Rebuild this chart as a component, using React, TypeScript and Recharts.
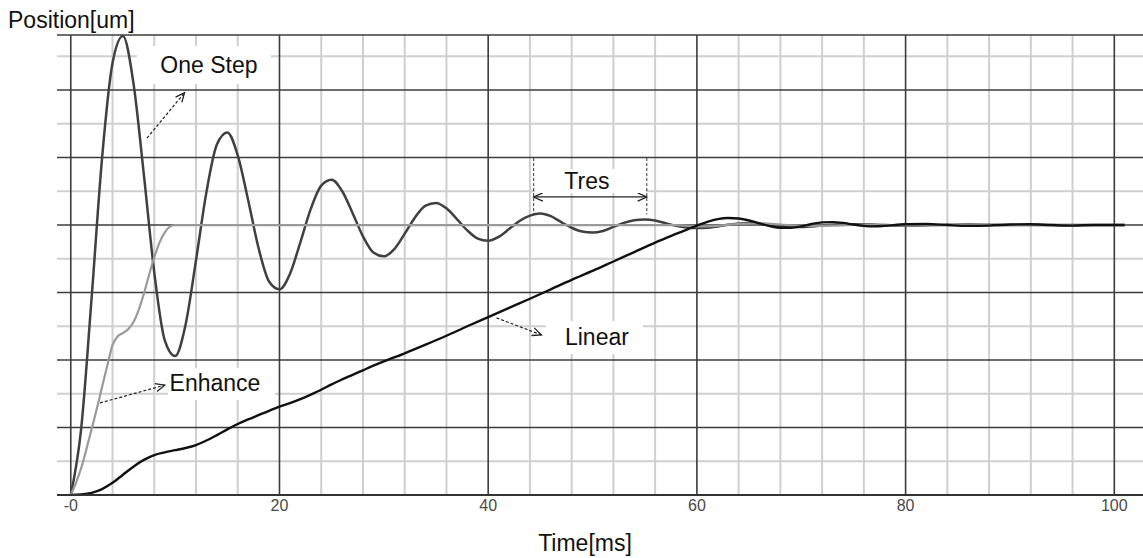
import React from 'react';
import {
  LineChart,
  Line,
  XAxis,
  YAxis,
  ReferenceLine,
  ReferenceDot,
} from 'recharts';

// [time ms, position], final position normalised to 1
const oneStep: [number, number][] = [
  [0, 0], [1, 0.247], [2, 0.732], [3, 1.249], [4, 1.6], [5, 1.7], [6, 1.527], [7, 1.188],
  [8, 0.825], [9, 0.574], [10, 0.515], [11, 0.631], [12, 0.869], [13, 1.122], [14, 1.298],
  [15, 1.343], [16, 1.258], [17, 1.092], [18, 0.914], [19, 0.791], [20, 0.762], [21, 0.819],
  [22, 0.936], [23, 1.06], [24, 1.146], [25, 1.168], [26, 1.126], [27, 1.045], [28, 0.958],
  [29, 0.898], [30, 0.884], [31, 0.911], [32, 0.968], [33, 1.029], [34, 1.072], [35, 1.082],
  [36, 1.062], [37, 1.022], [38, 0.98], [39, 0.95], [40, 0.942], [41, 0.956], [42, 0.985],
  [43, 1.015], [44, 1.035], [45, 1.043], [46, 1.033], [47, 1.011], [48, 0.99], [49, 0.976],
  [50, 0.972], [51, 0.978], [52, 0.993], [53, 1.008], [54, 1.018], [55, 1.021], [56, 1.017],
  [57, 1.007], [58, 0.997], [59, 0.991], [60, 0.989], [61, 0.99], [62, 0.995], [63, 1.001],
  [64, 1.006], [65, 1.008], [66, 1.006], [67, 1.001], [68, 0.996], [69, 0.993], [70, 0.993],
  [72, 0.998], [74, 1.003], [76, 1.003], [78, 1.0], [80, 0.998], [83, 1.0], [86, 1.002],
  [90, 1.0], [95, 1.0], [101, 1.0],
];

const enhance: [number, number][] = [
  [0, 0], [0.5, 0.045], [1, 0.1], [1.5, 0.17], [2, 0.245], [2.5, 0.32], [3, 0.4], [3.5, 0.48],
  [4, 0.555], [4.5, 0.588], [5, 0.6], [5.5, 0.614], [6, 0.64], [6.5, 0.685], [7, 0.745],
  [7.5, 0.815], [8, 0.88], [8.5, 0.935], [9, 0.972], [9.5, 0.994], [10, 1.0], [58, 1.0],
  [60, 0.995], [62, 0.997], [64, 1.004], [66, 1.006], [68, 1.002], [70, 0.997], [73, 0.998],
  [76, 1.002], [80, 1.0], [101, 1.0],
];

const linear: [number, number][] = [
  [0, 0], [1, 0.002], [2, 0.008], [3, 0.022], [4, 0.045], [5, 0.075], [6, 0.105], [7, 0.13],
  [8, 0.148], [9, 0.158], [10, 0.166], [11, 0.174], [12, 0.185], [13, 0.202], [14, 0.222],
  [15, 0.243], [16, 0.263], [17, 0.28], [18, 0.296], [19, 0.312], [20, 0.327], [21, 0.34],
  [22, 0.355], [23, 0.372], [24, 0.39], [25, 0.41], [26, 0.428], [27, 0.445], [28, 0.462],
  [29, 0.479], [30, 0.495], [32, 0.525], [34, 0.557], [36, 0.59], [38, 0.625], [40, 0.659],
  [42, 0.693], [44, 0.727], [46, 0.762], [48, 0.797], [50, 0.83], [52, 0.865], [54, 0.9],
  [56, 0.935], [58, 0.967], [60, 0.998], [61, 1.012], [62, 1.022], [63, 1.026], [64, 1.024],
  [65, 1.017], [66, 1.006], [67, 0.996], [68, 0.99], [69, 0.99], [70, 0.995], [71, 1.004],
  [72, 1.01], [73, 1.011], [74, 1.008], [75, 1.002], [76, 0.997], [77, 0.995], [78, 0.997],
  [80, 1.003], [82, 1.004], [84, 1.0], [86, 0.997], [88, 0.998], [90, 1.002], [92, 1.003],
  [94, 1.0], [96, 0.998], [98, 1.0], [101, 1.0],
];

const xTicks = [0, 20, 40, 60, 80, 100];
const xMinor = [4, 8, 12, 16, 24, 28, 32, 36, 44, 48, 52, 56, 64, 68, 72, 76, 84, 88, 92, 96];
const yMajor = [0.25, 0.5, 0.75, 1, 1.25, 1.5];
const yMinor = [0.125, 0.375, 0.625, 0.875, 1.125, 1.375, 1.625];

const X_DOMAIN: [number, number] = [-1.32, 102.75];
const Y_DOMAIN: [number, number] = [0, 1.704];

const toRows = (pts: [number, number][]) => pts.map(([t, v]) => ({ t, v }));

const FONT = '"Liberation Sans", Arial, sans-serif';

// dashed (or solid) arrow drawn on a ReferenceLine segment
const arrowShape = (dashed: boolean, both: boolean) => (p: any) => {
  const { x1, y1, x2, y2 } = p;
  const a = Math.atan2(y2 - y1, x2 - x1);
  const L = 10;
  const w = 0.42;
  const head = (x: number, y: number, ang: number) =>
    `M${x - L * Math.cos(ang - w)},${y - L * Math.sin(ang - w)} L${x},${y} L${x - L * Math.cos(ang + w)},${y - L * Math.sin(ang + w)}`;
  return (
    <g>
      <line x1={x1} y1={y1} x2={x2} y2={y2} stroke="#222" strokeWidth={1.2} strokeDasharray={dashed ? '3 2' : undefined} />
      <path d={head(x2, y2, a)} fill="none" stroke="#222" strokeWidth={1.3} />
      {both && <path d={head(x1, y1, a + Math.PI)} fill="none" stroke="#222" strokeWidth={1.3} />}
    </g>
  );
};

// text with a white box behind it (box edges in px around the text centre)
const boxedLabel = (text: string, box: [number, number, number, number]) => (props: any) => {
  const vb = props.viewBox || {};
  const cx = (vb.x ?? 0) + (vb.width ?? 0) / 2;
  const cy = (vb.y ?? 0) + (vb.height ?? 0) / 2;
  const [l, r, t, b] = box;
  return (
    <g>
      <rect x={cx - l} y={cy - t} width={l + r} height={t + b} fill="#fff" />
      <text x={cx} y={cy} dy="0.36em" textAnchor="middle" fill="#111" fontSize={23} fontFamily={FONT}>
        {text}
      </text>
    </g>
  );
};

export default function App() {
  return (
    <div style={{ position: 'absolute', left: 0, top: 0, width: 1143, height: 558, background: '#fff' }}>
      <div
        style={{
          position: 'absolute',
          left: 8,
          top: 7,
          fontFamily: FONT,
          fontSize: 23,
          color: '#111',
          lineHeight: 'normal',
        }}
      >
        Position[um]
      </div>
      <LineChart width={1143} height={558} margin={{ top: 35, right: 0, left: 57, bottom: 0 }}>
        <XAxis
          type="number"
          dataKey="t"
          domain={X_DOMAIN}
          allowDataOverflow
          ticks={xTicks}
          tickFormatter={(v: number) => (v === 0 ? '-0' : String(v))}
          tick={{ fill: '#4a4a4a', fontSize: 16, fontFamily: FONT }}
          tickLine={false}
          tickSize={0}
          tickMargin={5}
          height={63}
          axisLine={{ stroke: '#333', strokeWidth: 2 }}
          label={{ value: 'Time[ms]', position: 'insideBottom', offset: 7, dx: -15, fill: '#111', fontSize: 23, fontFamily: FONT }}
        />
        <YAxis
          type="number"
          domain={Y_DOMAIN}
          allowDataOverflow
          ticks={[0, ...yMajor]}
          tick={false}
          width={0}
          tickSize={5}
          tickLine={{ stroke: '#333', strokeWidth: 2 }}
          axisLine={{ stroke: '#222', strokeWidth: 3 }}
        />

        {/* minor grid */}
        {xMinor.map((x) => (
          <ReferenceLine key={`xm${x}`} x={x} stroke="#cfcfcf" strokeWidth={2} />
        ))}
        {yMinor.map((y) => (
          <ReferenceLine key={`ym${y}`} y={y} stroke="#cfcfcf" strokeWidth={2} />
        ))}

        {/* major grid */}
        {xTicks.map((x) => (
          <ReferenceLine key={`xM${x}`} x={x} stroke="#3c3c3c" strokeWidth={1.6} />
        ))}
        {yMajor.map((y) => (
          <ReferenceLine key={`yM${y}`} y={y} stroke="#3c3c3c" strokeWidth={1.6} />
        ))}
        <ReferenceLine y={Y_DOMAIN[1]} stroke="#3c3c3c" strokeWidth={1.6} />

        <Line data={toRows(oneStep)} dataKey="v" type="monotone" stroke="#404040" strokeWidth={2.5} dot={false} activeDot={false} isAnimationActive={false} />
        <Line data={toRows(enhance)} dataKey="v" type="monotone" stroke="#9a9a9a" strokeWidth={2.2} dot={false} activeDot={false} isAnimationActive={false} />
        <Line data={toRows(linear)} dataKey="v" type="monotone" stroke="#111" strokeWidth={2.4} dot={false} activeDot={false} isAnimationActive={false} />

        {/* annotation texts on white boxes */}
        <ReferenceDot x={13.24} y={1.593} r={0} fill="none" stroke="none" label={{ content: boxedLabel('One Step', [72, 62, 19, 19]) }} />
        <ReferenceDot x={13.82} y={0.415} r={0} fill="none" stroke="none" label={{ content: boxedLabel('Enhance', [47, 60, 15, 17]) }} />
        <ReferenceDot x={50.42} y={0.585} r={0} fill="none" stroke="none" label={{ content: boxedLabel('Linear', [51, 46, 16, 17]) }} />
        <ReferenceDot x={49.46} y={1.163} r={0} fill="none" stroke="none" label={{ content: boxedLabel('Tres', [52, 59, 12, 12]) }} />

        {/* annotation arrows */}
        <ReferenceLine segment={[{ x: 7.3, y: 1.322 }, { x: 10.9, y: 1.49 }]} shape={arrowShape(true, false)} />
        <ReferenceLine segment={[{ x: 2.8, y: 0.341 }, { x: 9.0, y: 0.407 }]} shape={arrowShape(true, false)} />
        <ReferenceLine segment={[{ x: 40.8, y: 0.656 }, { x: 45.1, y: 0.593 }]} shape={arrowShape(true, false)} />
        <ReferenceLine segment={[{ x: 44.36, y: 1.104 }, { x: 55.2, y: 1.104 }]} shape={arrowShape(false, true)} />
        <ReferenceLine segment={[{ x: 44.36, y: 1.248 }, { x: 44.36, y: 1.04 }]} stroke="#333" strokeWidth={1} strokeDasharray="3 2" />
        <ReferenceLine segment={[{ x: 55.2, y: 1.248 }, { x: 55.2, y: 1.04 }]} stroke="#333" strokeWidth={1} strokeDasharray="3 2" />
      </LineChart>
    </div>
  );
}
